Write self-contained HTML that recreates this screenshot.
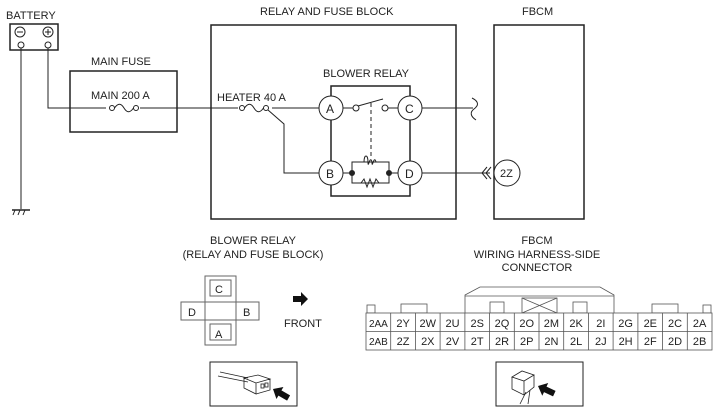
<!DOCTYPE html>
<html><head><meta charset="utf-8"><style>
body{margin:0;background:#fff}
svg{display:block}
text{font-family:"Liberation Sans",sans-serif;font-size:11px;fill:#222}
</style></head><body>
<svg width="721" height="416" viewBox="0 0 721 416" stroke="#222" fill="none">
<!-- battery -->
<text x="6" y="19" stroke="none">BATTERY</text>
<rect x="10" y="24" width="48" height="26" stroke-width="1.5"/>
<circle cx="20" cy="32" r="5"/><line x1="17" y1="32" x2="23" y2="32"/>
<circle cx="48" cy="32" r="5"/><line x1="45" y1="32" x2="51" y2="32"/><line x1="48" y1="29" x2="48" y2="35"/>
<circle cx="21" cy="45" r="3"/><circle cx="48" cy="45" r="3"/>
<line x1="21" y1="48" x2="21" y2="209"/>
<line x1="12" y1="210" x2="30" y2="210" stroke-width="1.5"/>
<line x1="15" y1="210" x2="13" y2="215"/><line x1="20" y1="210" x2="18" y2="215"/><line x1="25" y1="210" x2="23" y2="215"/>
<polyline points="48,48 48,108 319,108"/>
<!-- main fuse -->
<text x="91" y="65" stroke="none">MAIN FUSE</text>
<rect x="70" y="71" width="107" height="61" stroke-width="1.5"/>
<text x="91" y="99" stroke="none">MAIN 200 A</text>
<rect x="106" y="104" width="34" height="8" fill="#fff" stroke="none"/>
<circle cx="112" cy="108" r="2.5" fill="#fff"/><circle cx="136" cy="108" r="2.5" fill="#fff"/>
<path d="M114.5 108 C118 103,121 103,124 108 S130 113,133.5 108"/>
<!-- relay & fuse block -->
<text x="260" y="15" stroke="none">RELAY AND FUSE BLOCK</text>
<rect x="211" y="25" width="245" height="194" stroke-width="1.5"/>
<text x="217" y="101" stroke="none">HEATER 40 A</text>
<rect x="238" y="104" width="34" height="8" fill="#fff" stroke="none"/>
<circle cx="242" cy="108" r="2.5" fill="#fff"/><circle cx="266" cy="108" r="2.5" fill="#fff"/>
<path d="M244.5 108 C248 103,251 103,254 108 S260 113,263.5 108"/>
<polyline points="268,110 284,124 284,173 319,173"/>
<text x="323" y="77" stroke="none">BLOWER RELAY</text>
<rect x="331" y="86" width="79" height="110" stroke-width="1.5"/>
<g fill="#fff">
<circle cx="331" cy="108" r="12"/><circle cx="410" cy="108" r="12"/>
<circle cx="331" cy="173" r="12"/><circle cx="410" cy="173" r="12"/>
</g>
<g stroke="none"><text x="326" y="113" style="font-size:12px">A</text><text x="405" y="113" style="font-size:12px">C</text><text x="326" y="178" style="font-size:12px">B</text><text x="405" y="178" style="font-size:12px">D</text></g>
<line x1="343" y1="108" x2="353" y2="108"/><circle cx="356" cy="108" r="3" fill="#fff"/>
<line x1="398" y1="108" x2="388" y2="108"/><circle cx="385" cy="108" r="3" fill="#fff"/>
<line x1="358" y1="106" x2="383" y2="99"/>
<line x1="371" y1="103" x2="371" y2="156" stroke-dasharray="4,3"/>
<line x1="343" y1="173" x2="398" y2="173"/>
<rect x="352" y="162" width="37" height="21" fill="#fff"/>
<circle cx="352" cy="173" r="2.5" fill="#222"/><circle cx="389" cy="173" r="2.5" fill="#222"/>
<path d="M364 162 c0 -8 4 -8 4 0 c0 8 2 -8 4 0 c0 8 2 -8 4 0"/>
<polyline points="361,183 364,179 367,187 370,179 373,187 376,179 379,183" />
<line x1="422" y1="108" x2="473" y2="108"/>
<path d="M472 98 C480 102,478 106,474 109 C470 112,470 116,476 120"/>
<line x1="422" y1="173" x2="490" y2="173"/>
<polyline points="487,167 482,173 487,179"/><polyline points="491,167 486,173 491,179"/>
<!-- FBCM -->
<text x="522" y="15" stroke="none">FBCM</text>
<rect x="494" y="25" width="90" height="194" stroke-width="1.5"/>
<circle cx="507" cy="173" r="13" fill="#fff"/>
<text x="500" y="177" stroke="none">2Z</text>
<!-- bottom left -->
<text x="253" y="244" stroke="none" text-anchor="middle">BLOWER RELAY</text>
<text x="253" y="258" stroke="none" text-anchor="middle">(RELAY AND FUSE BLOCK)</text>
<g stroke="#666">
<rect x="205" y="276" width="31" height="69"/>
<rect x="181" y="302" width="78" height="18"/>
<rect x="210" y="280" width="21" height="16"/>
<rect x="210" y="324" width="21" height="16"/>
</g>
<text x="215" y="293" stroke="none">C</text><text x="215" y="338" stroke="none">A</text>
<text x="188" y="316" stroke="none">D</text><text x="243" y="316" stroke="none">B</text>
<path d="M293 296 h8 v-4 l7 7 l-7 7 v-4 h-8z" fill="#111" stroke="none"/>
<text x="284" y="327" stroke="none">FRONT</text>
<rect x="210" y="362" width="87" height="44"/>
<g stroke-width="0.8">
<path d="M218 376 l30 6 M220 372 l28 6"/>
<path d="M244 378 l14 -3 l12 4 l-14 4z M244 378 v10 l12 6 v-11 M270 379 v11 l-14 4"/>
<rect x="261" y="384" width="3" height="4"/><rect x="265" y="383" width="3" height="4"/>
</g>
<path d="M-18 -3 h10 v-4 l8 7 l-8 7 v-4 h-10z" fill="#111" stroke="none" transform="translate(273,389) rotate(210)"/>
<!-- bottom right -->
<text x="537" y="244" stroke="none" text-anchor="middle">FBCM</text>
<text x="537" y="258" stroke="none" text-anchor="middle">WIRING HARNESS-SIDE</text>
<text x="537" y="271" stroke="none" text-anchor="middle">CONNECTOR</text>
<g stroke="#555" stroke-width="0.8">
<path d="M465 313 V295 L480 287 H600 L614 295 V313"/>
<line x1="465" y1="296" x2="614" y2="296"/>
<rect x="490" y="302" width="14" height="11"/><rect x="573" y="302" width="14" height="11"/>
<rect x="522" y="298" width="35" height="15"/><line x1="522" y1="298" x2="557" y2="313"/><line x1="557" y1="298" x2="522" y2="313"/>
<rect x="367" y="305" width="8" height="8"/><rect x="401" y="304" width="26" height="9"/>
<rect x="652" y="304" width="26" height="9"/><rect x="703" y="305" width="8" height="8"/>
<rect x="366" y="313" width="346" height="37" fill="#fff"/>
<line x1="366" y1="331.5" x2="712" y2="331.5"/>
<path d="M390.7 313V350M415.4 313V350M440.1 313V350M464.9 313V350M489.6 313V350M514.3 313V350M539 313V350M563.7 313V350M588.4 313V350M613.1 313V350M637.9 313V350M662.6 313V350M687.3 313V350"/>
</g>
<g stroke="none" text-anchor="middle">
<text x="378.4" y="327" style="font-size:10px">2AA</text><text x="403.1" y="327">2Y</text><text x="427.8" y="327">2W</text><text x="452.5" y="327">2U</text><text x="477.2" y="327">2S</text><text x="502" y="327">2Q</text><text x="526.7" y="327">2O</text><text x="551.4" y="327">2M</text><text x="576.1" y="327">2K</text><text x="600.8" y="327">2I</text><text x="625.6" y="327">2G</text><text x="650.3" y="327">2E</text><text x="675" y="327">2C</text><text x="699.6" y="327">2A</text>
<text x="378.4" y="345" style="font-size:10px">2AB</text><text x="403.1" y="345">2Z</text><text x="427.8" y="345">2X</text><text x="452.5" y="345">2V</text><text x="477.2" y="345">2T</text><text x="502" y="345">2R</text><text x="526.7" y="345">2P</text><text x="551.4" y="345">2N</text><text x="576.1" y="345">2L</text><text x="600.8" y="345">2J</text><text x="625.6" y="345">2H</text><text x="650.3" y="345">2F</text><text x="675" y="345">2D</text><text x="699.6" y="345">2B</text>
</g>
<rect x="496" y="362" width="87" height="44"/>
<g stroke-width="0.8">
<path d="M512 377 l10 -6 l12 4 l-10 6z M512 377 v12 l12 6 v-14 M534 375 v12 l-10 8"/>
<path d="M526 392 l-6 12 M530 390 l-2 14"/>
</g>
<path d="M-18 -3 h10 v-4 l8 7 l-8 7 v-4 h-10z" fill="#111" stroke="none" transform="translate(538,386) rotate(205)"/>
</svg>
</body></html>
